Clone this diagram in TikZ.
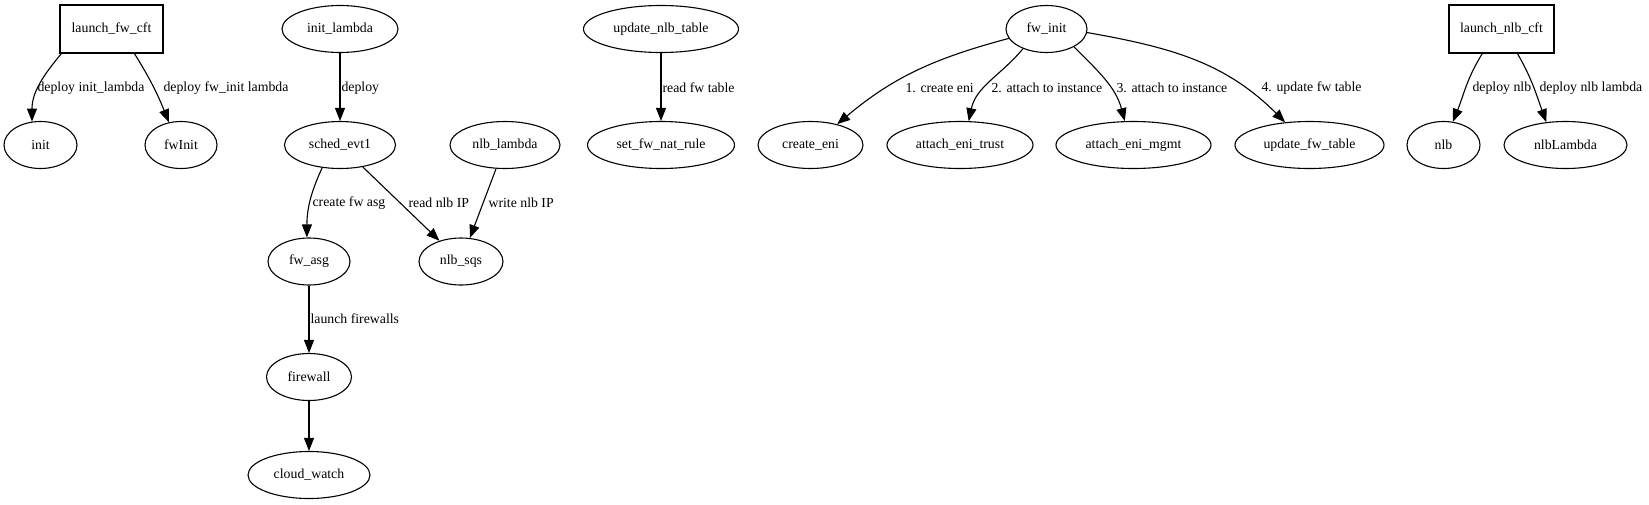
\documentclass[tikz,border=0pt]{standalone}
\usepackage{fontspec}
\setmainfont{Liberation Serif}
\usepackage{tikz}
\usetikzlibrary{shapes,arrows.meta,positioning}

\newcommand{\gvfont}{\fontsize{13.8}{16}\selectfont}
\tikzset{
  proc/.style={ellipse, draw, line width=1.1pt, minimum height=47pt, inner sep=0pt, font=\gvfont},
  cft/.style={rectangle, draw, line width=1.1pt, minimum height=48pt, inner sep=0pt, font=\gvfont},
  flow/.style={-{Triangle[length=13pt,width=10pt]}, line width=1.1pt},
  lbl/.style={anchor=west, inner sep=0pt, font=\gvfont}
}

\begin{document}
\begin{tikzpicture}[x=1pt, y=1pt]
  \useasboundingbox (0,0) rectangle (1649,-504);

  \node[cft, minimum width=103pt] (lfc) at (111.5,-29) {launch\_fw\_cft};
  \node[proc, minimum width=116pt] (il) at (340,-29) {init\_lambda};
  \node[proc, minimum width=155pt] (unt) at (661,-29) {update\_nlb\_table};
  \node[proc, minimum width=81pt] (fwi) at (1046.5,-29) {fw\_init};
  \node[cft, minimum width=105pt] (lnc) at (1501.5,-29) {launch\_nlb\_cft};

  \node[proc, minimum width=73pt] (init) at (40.5,-145) {init};
  \node[proc, minimum width=72pt] (fwinit) at (181,-145) {fwInit};
  \node[proc, minimum width=111pt] (se) at (340,-145) {sched\_evt1};
  \node[proc, minimum width=110pt] (nl) at (505,-145) {nlb\_lambda};
  \node[proc, minimum width=147pt] (sfn) at (661,-145) {set\_fw\_nat\_rule};
  \node[proc, minimum width=105pt] (ce) at (810.5,-145) {create\_eni};
  \node[proc, minimum width=146pt] (aet) at (960,-145) {attach\_eni\_trust};
  \node[proc, minimum width=155pt] (aem) at (1133.5,-145) {attach\_eni\_mgmt};
  \node[proc, minimum width=149pt] (uft) at (1309.5,-145) {update\_fw\_table};
  \node[proc, minimum width=73pt] (nlb) at (1443.5,-145) {nlb};
  \node[proc, minimum width=123pt] (nll) at (1565.5,-145) {nlbLambda};

  \node[proc, minimum width=82pt] (fa) at (309,-261.5) {fw\_asg};
  \node[proc, minimum width=84pt] (nsq) at (461,-261.5) {nlb\_sqs};
  \node[proc, minimum width=85pt] (fwl) at (309,-377) {firewall};
  \node[proc, minimum width=122pt] (cw) at (309,-475) {cloud\_watch};

  \draw[flow] ([xshift=2pt]lfc.south west) to[out=-130,in=90] (init.110) node[lbl] at (37,-88) {deploy init\_lambda};
  \draw[flow] (lfc.-47) to[out=-58,in=112] (fwinit.118) node[lbl] at (163,-88) {deploy fw\_init lambda};
  \draw[flow] (il) -- (se) node[lbl] at (341,-88) {deploy};
  \draw[flow] (unt) -- (sfn) node[lbl] at (662,-88) {read fw table};
  \draw[flow] (fwi.-166) to[out=-165,in=40] (ce.38) node[lbl] at (905,-88) {1. create eni};
  \draw[flow] (fwi.-140) to[out=-130,in=78] (aet.70) node[lbl] at (991,-88) {2. attach to instance};
  \draw[flow] (fwi.-33) to[out=-45,in=105] (aem.110) node[lbl] at (1116,-88) {3. attach to instance};
  \draw[flow] (fwi.-5) to[out=-10,in=135] (uft.137) node[lbl] at (1261,-88) {4. update fw table};
  \draw[flow] (lnc.-128) to[out=-122,in=68] (nlb.68) node[lbl] at (1472,-88) {deploy nlb};
  \draw[flow] (lnc.-57) to[out=-60,in=110] (nll.130) node[lbl] at (1539,-88) {deploy nlb lambda};
  \draw[flow] (se.-128) to[out=-115,in=90] (fa.95) node[lbl] at (312,-203) {create fw asg};
  \draw[flow] (se) -- (nsq) node[lbl] at (408,-203) {read nlb IP};
  \draw[flow] (nl) -- (nsq) node[lbl] at (488,-203) {write nlb IP};
  \draw[flow] (fa) -- (fwl) node[lbl] at (310,-319) {launch firewalls};
  \draw[flow] (fwl) -- (cw);
\end{tikzpicture}
\end{document}
